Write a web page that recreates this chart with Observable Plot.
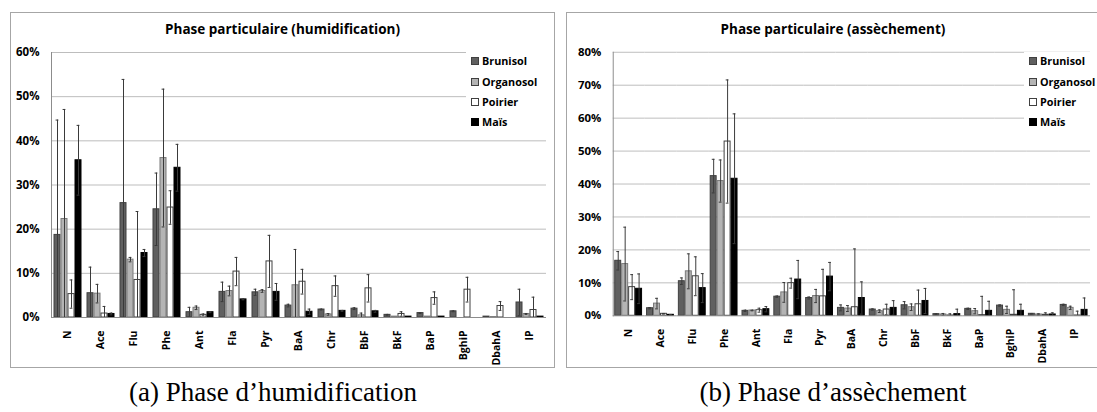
<!DOCTYPE html>
<html>
<head>
<meta charset="utf-8">
<script src="https://cdn.jsdelivr.net/npm/d3@7"></script>
<script src="https://cdn.jsdelivr.net/npm/@observablehq/plot@0.6"></script>
<style>
  html, body { margin: 0; padding: 0; background: #fff; }
  body { width: 1097px; height: 412px; position: relative; overflow: hidden; font-family: "Open Sans", Lato, sans-serif; }
  .box { position: absolute; box-sizing: border-box; border: 1px solid #a6a6a6; background: #fff; }
  .chart { position: absolute; }
  .chart text { font-family: "Open Sans", Lato, sans-serif; font-weight: 700 !important; fill: #000; }
  .title { position: absolute; font-weight: 700; font-size: 13.5px; text-align: center; color: #000; }
  .legend { position: absolute; background: #fff; font-weight: 700; font-size: 10.8px; color: #000; }
  .legend .row { position: absolute; left: 5px; height: 14px; line-height: 14px; white-space: nowrap; }
  .legend .sw { display: inline-block; width: 8px; height: 8px; box-sizing: border-box; border: 1px solid #404040; margin-right: 3px; vertical-align: 0px; }
  .caption { position: absolute; font-family: "Liberation Serif", "DejaVu Serif", serif; font-size: 27px; line-height: 30px; text-align: center; color: #000; }
</style>
</head>
<body>
<div class="box" style="left:10px;top:12px;width:545px;height:356px"></div>
<div class="box" style="left:566px;top:12px;width:540px;height:356px"></div>
<div id="c1" class="chart" style="left:10px;top:12px"></div>
<div id="c2" class="chart" style="left:566px;top:12px"></div>
<div class="title" style="left:10px;top:20px;width:545px">Phase particulaire (humidification)</div>
<div class="title" style="left:566px;top:20px;width:534px">Phase particulaire (assèchement)</div>
<div id="lg1" class="legend" style="left:466px;top:52px;width:86px;height:80px"></div>
<div id="lg2" class="legend" style="left:1024px;top:52px;width:73px;height:80px"></div>
<div class="caption" style="left:10px;top:377px;width:526px">(a) Phase d’humidification</div>
<div class="caption" style="left:566px;top:377px;width:534px">(b) Phase d’assèchement</div>
<script>
// ---- data (percent) ----
const categories = ["N","Ace","Flu","Phe","Ant","Fla","Pyr","BaA","Chr","BbF","BkF","BaP","BghiP","DbahA","IP"];
const series = ["Brunisol","Organosol","Poirier","Maïs"];
const seriesFill = ["#606060","#b4b4b4","#ffffff","#000000"];
const seriesStroke = ["#404040","#7a7a7a","#404040","#000000"];

// Phase d'humidification
const humBrunisol    = [18.7,5.5,25.9,24.5,1.2,5.8,5.7,2.7,1.8,2.0,0.6,1.0,1.4,0.2,3.4];
const humBrunisolErr = [26.0,5.9,28.0,8.2,1.1,2.2,0.7,0.3,0.1,0.2,0.1,0.1,0.1,0.0,3.0];
const humOrganosol    = [22.3,5.4,13.1,36.1,2.2,6.0,6.0,7.3,0.7,0.5,0.2,0.2,0.0,0.1,0.8];
const humOrganosolErr = [24.8,2.1,0.5,15.6,0.4,1.1,0.3,8.1,0.2,0.5,0.0,0.0,0.0,0.0,0.1];
const humPoirier    = [5.3,0.9,8.5,24.9,0.6,10.4,12.7,8.1,7.1,6.6,0.8,4.4,6.3,2.6,1.7];
const humPoirierErr = [3.2,1.6,15.5,3.8,0.2,3.2,5.9,2.8,2.3,3.1,0.5,1.4,2.8,1.0,2.9];
const humMais    = [35.6,0.8,14.6,33.9,1.2,4.1,5.8,1.3,1.5,1.4,0.2,0.2,0.0,0.0,0.2];
const humMaisErr = [7.9,0.2,0.8,5.3,0.1,0.1,1.9,0.6,0.1,0.2,0.0,0.0,0.0,0.0,0.0];

// Phase d'assèchement
const assBrunisol    = [16.7,2.3,10.5,42.4,1.5,5.8,5.4,2.4,1.9,3.2,0.5,2.1,3.1,0.6,3.3];
const assBrunisolErr = [2.8,0.2,1.0,5.1,0.2,0.2,0.3,0.9,0.2,1.1,0.1,0.2,0.2,0.1,0.2];
const assOrganosol    = [15.7,3.7,13.5,40.9,1.6,7.1,6.0,2.2,1.4,2.6,0.4,1.4,1.8,0.4,2.4];
const assOrganosolErr = [11.2,1.6,5.3,6.4,0.1,3.0,2.0,0.9,0.4,1.0,0.3,0.8,1.1,0.2,0.5];
const assPoirier    = [8.7,0.6,12.0,52.9,1.7,9.9,5.9,2.6,1.9,3.5,0.1,0.2,0.3,0.3,0.1];
const assPoirierErr = [3.8,0.1,5.9,18.7,0.6,1.5,8.2,17.7,1.6,4.3,0.5,5.7,7.6,0.6,1.3];
const assMais    = [8.2,0.3,8.4,41.6,2.0,11.0,11.9,5.4,2.4,4.5,0.5,1.5,1.5,0.4,1.8];
const assMaisErr = [4.5,0.1,4.4,19.7,0.8,5.8,4.3,4.9,2.2,3.8,1.5,2.9,2.0,0.5,3.6];

const humTicks = [0,0.1,0.2,0.3,0.4,0.5,0.6];
const assTicks = [0,0.1,0.2,0.3,0.4,0.5,0.6,0.7,0.8];

function rows(vals, errs) {
  const out = [];
  series.forEach((s, si) => {
    categories.forEach((c, ci) => {
      out.push({cat: c, series: s, v: vals[si][ci] / 100, e: errs[si][ci] / 100});
    });
  });
  return out;
}

const humData = rows([humBrunisol, humOrganosol, humPoirier, humMais],
                     [humBrunisolErr, humOrganosolErr, humPoirierErr, humMaisErr]);
const assData = rows([assBrunisol, assOrganosol, assPoirier, assMais],
                     [assBrunisolErr, assOrganosolErr, assPoirierErr, assMaisErr]);

function chart(data, ticks, width, plotWidth) {
  const ymax = ticks[ticks.length - 1];
  const errData = data.filter(d => d.e > 0.0005);
  const lowCaps = errData.filter(d => d.v - d.e >= 0);
  const barMarks = series.map((s, i) =>
    Plot.barY(data.filter(d => d.series === s), {
      fx: "cat", x: "series", y: "v",
      fill: seriesFill[i], stroke: seriesStroke[i], strokeWidth: 1
    })
  );
  return Plot.plot({
    width: width,
    height: 356,
    marginLeft: 40,
    marginRight: width - 40 - plotWidth,
    marginTop: 40,
    marginBottom: 51,
    style: {fontFamily: "'Open Sans', Lato, sans-serif", fontWeight: "bold", fontSize: "11px", color: "#000", background: "transparent"},
    fx: {domain: categories, paddingInner: 0, paddingOuter: 0, label: null},
    x: {domain: series, paddingInner: 0.13, paddingOuter: 0.27, axis: null},
    y: {domain: [0, ymax], label: null},
    marks: [
      Plot.ruleY(ticks.slice(1), {stroke: "#bdbdbd", strokeWidth: 1}),
      ...barMarks,
      Plot.ruleX(errData, {fx: "cat", x: "series", y1: d => Math.max(0, d.v - d.e), y2: d => Math.min(ymax, d.v + d.e), stroke: "#3a3a3a", strokeWidth: 1}),
      Plot.tickY(errData.filter(d => d.v + d.e <= ymax), {fx: "cat", x: "series", y: d => d.v + d.e, stroke: "#3a3a3a", strokeWidth: 1, insetLeft: 1.6, insetRight: 1.6}),
      Plot.tickY(lowCaps, {fx: "cat", x: "series", y: d => d.v - d.e, stroke: "#3a3a3a", strokeWidth: 1, insetLeft: 1.6, insetRight: 1.6}),
      Plot.ruleY([0], {stroke: "#8c8c8c", strokeWidth: 1}),
      Plot.frame({anchor: "left", facetAnchor: "left", stroke: "#8c8c8c"}),
      Plot.axisY({ticks: ticks, tickFormat: d3.format(".0%"), tickSize: 0, tickPadding: 12, label: null, fontSize: 11.5, fontWeight: "bold"}),
      Plot.axisFx({anchor: "bottom", tickRotate: -90, tickSize: 0, tickPadding: 13, label: null, fontWeight: "bold", fontSize: 10.5})
    ]
  });
}

document.getElementById("c1").appendChild(chart(humData, humTicks, 545, 496));
document.getElementById("c2").appendChild(chart(assData, assTicks, 534, 494));

function legend(id) {
  const el = document.getElementById(id);
  const tops = [2, 23, 43, 63];
  series.forEach((s, i) => {
    const r = document.createElement("div");
    r.className = "row";
    r.style.top = tops[i] + "px";
    const sw = document.createElement("span");
    sw.className = "sw";
    sw.style.background = seriesFill[i];
    sw.style.borderColor = i === 3 ? "#000" : "#404040";
    r.appendChild(sw);
    r.appendChild(document.createTextNode(s));
    el.appendChild(r);
  });
}
legend("lg1");
legend("lg2");
</script>
</body>
</html>
